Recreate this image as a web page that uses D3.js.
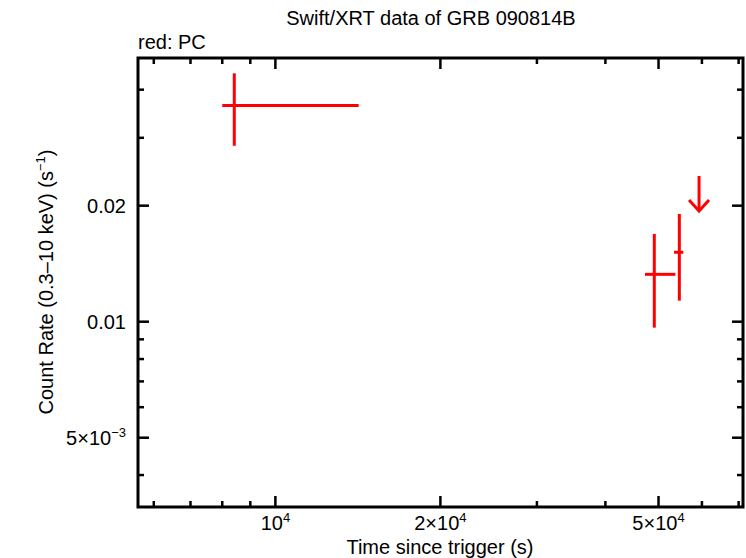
<!DOCTYPE html>
<html><head><meta charset="utf-8">
<script src="https://cdn.jsdelivr.net/npm/d3@7"></script>
<style>body{margin:0;background:#fff}svg{display:block}text{font-family:"Liberation Sans",Arial,sans-serif;fill:#000}</style>
</head><body>
<script>
// Data (PC mode, red)
const time   = [8414, 49120, 54570];
const tLow   = [8000, 47240, 53380];
const tHigh  = [14190, 53670, 55490];
const rate   = [0.03641, 0.01327, 0.01514];
const rLow   = [0.02861, 0.00965, 0.01134];
const rHigh  = [0.0441, 0.01689, 0.01903];
const ulTime = [59280];
const ulRate = [0.02388];
const xTickVals = [1e4, 2e4, 5e4];
const xTickLabels = [["10","4"],["2×10","4"],["5×10","4"]];
const yTickVals = [0.02, 0.01, 0.005];
const yTickLabels = [["0.02",""],["0.01",""],["5×10","−3"]];

const W = 746, H = 558;
const L = 138, R = 743, T = 58, B = 507;
const svg = d3.select("body").append("svg").attr("width", W).attr("height", H);
const x = d3.scaleLog().domain([5615, 71300]).range([L, R]);
const y = d3.scaleLog().domain([0.003305, 0.04833]).range([B, T]);

const xMinor = [6000,7000,8000,9000,3e4,4e4,6e4,7e4];
const yMinor = [0.004,0.006,0.007,0.008,0.009,0.03,0.04];

const g = svg.append("g");
function ln(x1,y1,x2,y2){
  g.append("line").attr("x1",x1).attr("y1",y1).attr("x2",x2).attr("y2",y2)
    .attr("stroke","#000").attr("stroke-width",2.5);
}
function xt(v, len){ ln(x(v), B, x(v), B-len); ln(x(v), T, x(v), T+len); }
function yt(v, len){ ln(L, y(v), L+len, y(v)); ln(R, y(v), R-len, y(v)); }
xTickVals.forEach(v => xt(v, 11));
xMinor.forEach(v => xt(v, 6));
yTickVals.forEach(v => yt(v, 11));
yMinor.forEach(v => yt(v, 6));

svg.append("rect").attr("x", L).attr("y", T).attr("width", R-L).attr("height", B-T)
  .attr("fill", "none").attr("stroke", "#000").attr("stroke-width", 3);

// tick labels
xTickVals.forEach((v,i) => {
  const t = svg.append("text").attr("x", x(v)).attr("y", 530).attr("text-anchor", "middle").style("font-size", "20px");
  t.append("tspan").text(xTickLabels[i][0]);
  t.append("tspan").text(xTickLabels[i][1]).attr("dy", -8).style("font-size", "13px");
});
yTickVals.forEach((v,i) => {
  const t = svg.append("text").attr("x", 126).attr("y", y(v)+7).attr("text-anchor", "end").style("font-size", "20px");
  t.append("tspan").text(yTickLabels[i][0]);
  if (yTickLabels[i][1]) t.append("tspan").text(yTickLabels[i][1]).attr("dy", -8).style("font-size", "13px");
});

// titles
svg.append("text").attr("x", 431).attr("y", 25).attr("text-anchor", "middle").style("font-size", "20px").text("Swift/XRT data of GRB 090814B");
svg.append("text").attr("x", 138).attr("y", 49).style("font-size", "20px").text("red: PC");
svg.append("text").attr("x", 440).attr("y", 554).attr("text-anchor", "middle").style("font-size", "20px").text("Time since trigger (s)");
const yl = svg.append("text").attr("transform", "translate(53,282) rotate(-90)").attr("text-anchor", "middle").style("font-size", "20px");
yl.append("tspan").text("Count Rate (0.3–10 keV) (s");
yl.append("tspan").text("−1").attr("dy", -8).style("font-size", "13px");
yl.append("tspan").text(")").attr("dy", 8);

// data
const d = svg.append("g").attr("stroke", "#ff0000").attr("stroke-width", 3).attr("fill", "none");
time.forEach((t,i) => {
  d.append("line").attr("x1", x(tLow[i])).attr("x2", x(tHigh[i])).attr("y1", y(rate[i])).attr("y2", y(rate[i]));
  d.append("line").attr("x1", x(t)).attr("x2", x(t)).attr("y1", y(rLow[i])).attr("y2", y(rHigh[i]));
});
ulTime.forEach((t,i) => {
  const px = x(t), py = y(ulRate[i]);
  d.append("line").attr("x1", px).attr("x2", px).attr("y1", py).attr("y2", py+35);
  d.append("path").attr("d", `M${px-10},${py+24} L${px},${py+35} L${px+10},${py+24}`);
});
</script>
</body></html>
